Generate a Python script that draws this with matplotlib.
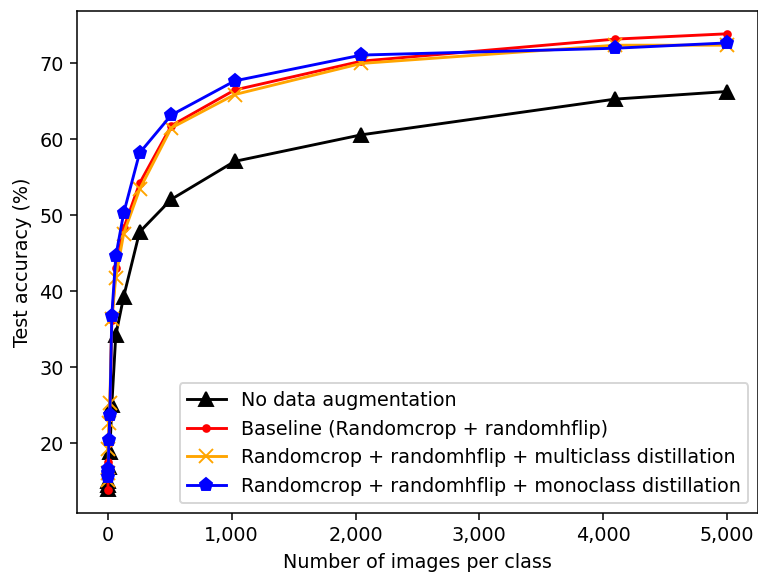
import matplotlib
matplotlib.use("Agg")
import matplotlib.pyplot as plt
from matplotlib.ticker import FuncFormatter

# images per class
n_images = [1, 2, 4, 8, 16, 32, 64, 128, 256, 512, 1024, 2048, 4096, 5000]

# test accuracy (%)
no_aug = [14.0, 14.5, 15.0, 16.8, 18.8, 25.0, 34.2, 39.3, 47.8, 52.1, 57.1, 60.6, 65.3, 66.3]
baseline = [13.8, 16.0, 17.5, 20.0, 23.5, 36.2, 43.0, 48.3, 54.2, 61.8, 66.5, 70.3, 73.2, 73.9]
multiclass = [15.1, 16.0, 19.2, 22.6, 25.3, 36.3, 41.8, 47.6, 53.4, 61.5, 65.9, 70.0, 72.4, 72.4]
monoclass = [15.5, 16.0, 16.6, 20.4, 23.7, 36.8, 44.6, 50.3, 58.2, 63.2, 67.7, 71.1, 72.0, 72.7]

dpi = 138
fig = plt.figure(figsize=(758 / dpi, 572 / dpi), dpi=dpi)
ax = fig.add_axes([0.1016, 0.1031, 0.8984, 0.8777])

ax.plot(n_images, no_aug, color='black', marker='^', markersize=7,
        label='No data augmentation')
ax.plot(n_images, baseline, color='red', marker='.', markersize=7,
        label='Baseline (Randomcrop + randomhflip)')
ax.plot(n_images, multiclass, color='orange', marker='x', markersize=7,
        label='Randomcrop + randomhflip + multiclass distillation')
ax.plot(n_images, monoclass, color='blue', marker='p', markersize=7,
        label='Randomcrop + randomhflip + monoclass distillation')

ax.xaxis.set_major_formatter(FuncFormatter(lambda v, p: '{:,.0f}'.format(v)))
ax.set_xlabel('Number of images per class')
ax.set_ylabel('Test accuracy (%)')
ax.legend(loc='lower right')

fig.savefig('out.png', dpi=dpi)
